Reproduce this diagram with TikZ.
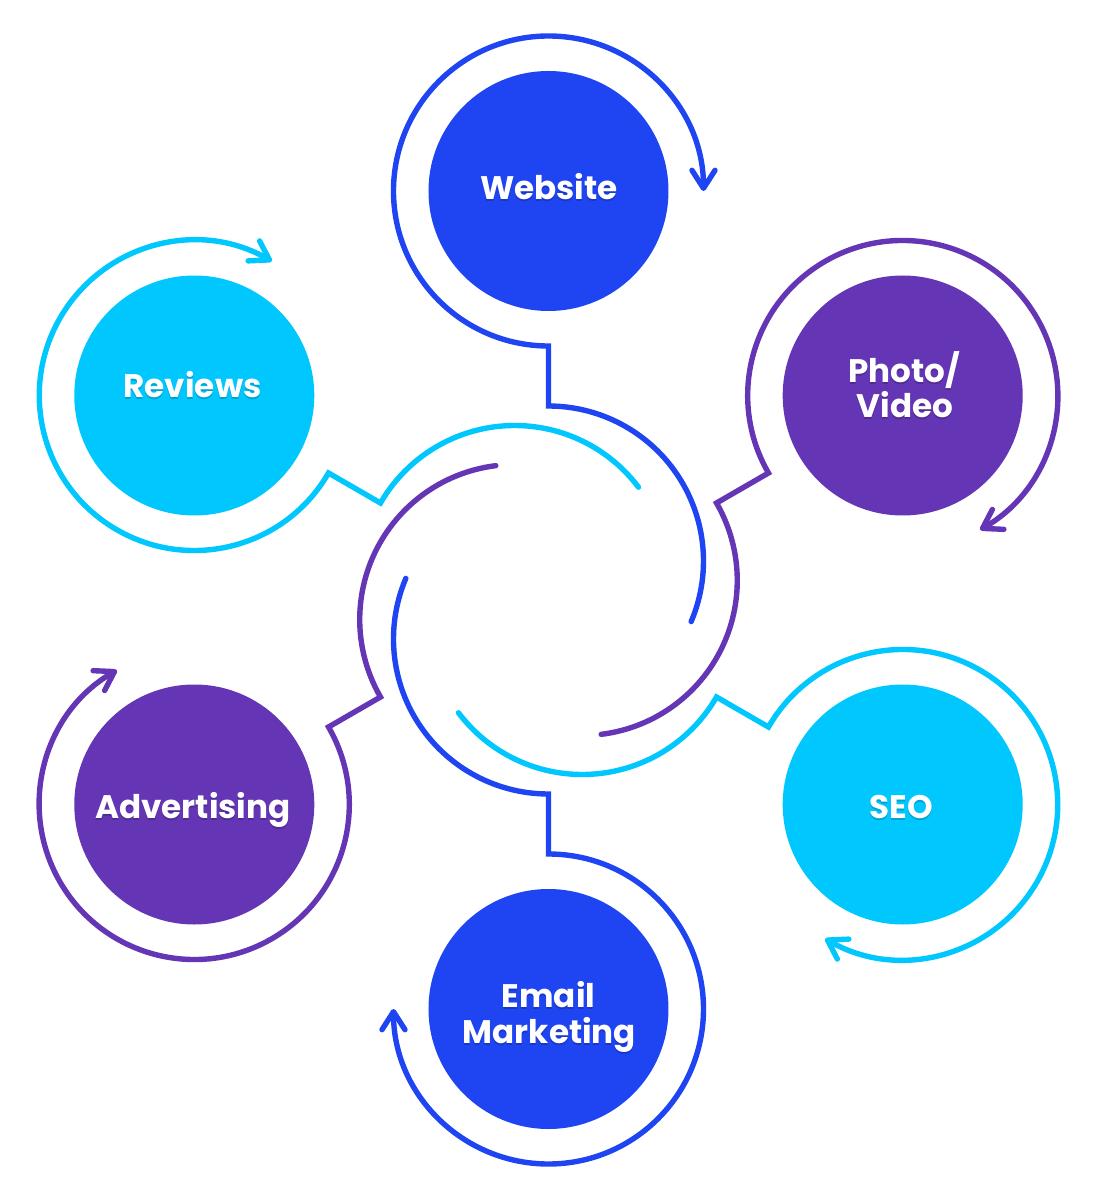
\documentclass[tikz,border=0pt]{standalone}
\usepackage{fontspec}
\newfontfamily\pop{Poppins}
\usetikzlibrary{calc,arrows.meta}
\definecolor{cblue}{HTML}{1F44F1}
\definecolor{cpurple}{HTML}{6435B5}
\definecolor{ccyan}{HTML}{00C8FE}
\begin{document}
\begin{tikzpicture}[
  disc/.style={circle, minimum size=240pt, inner sep=0pt, draw=none},
  link/.style={line width=5.4pt, line cap=round, line join=miter,
    -{Straight Barb[length=18pt,width=23pt,round]}},
  lbl/.style={anchor=base, inner sep=0pt, text=white, font=\pop\bfseries\fontsize{32.6}{36}\selectfont},
  shd/.style={anchor=base, inner sep=0pt, text=black, opacity=0.18, font=\pop\bfseries\fontsize{32.6}{36}\selectfont}
]
\useasboundingbox (-548.5pt,-600pt) rectangle (561.5pt,600pt);
\coordinate (hub) at (0pt,0pt);
\foreach \a/\col/\nm in {90/cblue/web, 30/cpurple/pho, -30/ccyan/seo, -90/cblue/ema, -150/cpurple/adv, 150/ccyan/rev} {
  \pgfmathsetmacro\b{\a-113}
  \pgfmathsetmacro\s{\a+180}
  \pgfmathsetmacro\e{\a-90}
  \coordinate (\nm-c) at (\a:409pt);
  \coordinate (\nm-hub) at (\a:39pt);
  \coordinate (\nm-out) at (\a:254pt);
  \coordinate (\nm-end) at ($(\nm-hub)+(\b:155pt)$);
  \node[disc, fill=\col] (\nm) at (\nm-c) {};
  \draw[link, draw=\col] (\nm-end) arc[start angle=\b, end angle=\a, radius=155pt]
    -- (\nm-out) arc[start angle=\s, end angle=\e, radius=155pt];
}
% labels: shadows
\foreach \x/\y/\t in {0.5/400/Website, 355.5/217/Photo\slash, 356.5/182/Video, 353/-218/SEO, 0/-407/Email, 1/-443/Marketing, -355.5/-218/Advertising, -356/202/Reviews} {
  \node[shd] at (\x pt,\y pt-2pt) {\t};
}
\node[lbl] (tweb) at (0.5pt,400pt) {Website};
\node[lbl] (tpho1) at (355.5pt,217pt) {Photo/};
\node[lbl] (tpho2) at (356.5pt,182pt) {Video};
\node[lbl] (tseo) at (353pt,-218pt) {SEO};
\node[lbl] (tema1) at (0pt,-407pt) {Email};
\node[lbl] (tema2) at (1pt,-443pt) {Marketing};
\node[lbl] (tadv) at (-355.5pt,-218pt) {Advertising};
\node[lbl] (trev) at (-356pt,202pt) {Reviews};
\end{tikzpicture}
\end{document}
